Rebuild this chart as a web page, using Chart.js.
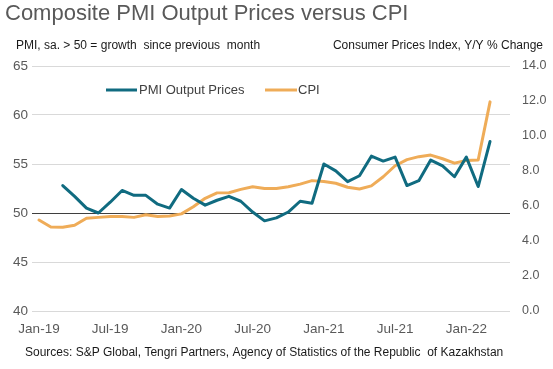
<!DOCTYPE html>
<html>
<head>
<meta charset="utf-8">
<script src="https://cdn.jsdelivr.net/npm/chart.js@4.4.1/dist/chart.umd.min.js"></script>
<style>
  html, body { margin: 0; padding: 0; background: #ffffff; }
  canvas { display: block; }
</style>
</head>
<body>
<canvas id="c" width="553" height="369"></canvas>
<script>
// ---- Data ----
const months = [
  'Jan-19','Feb-19','Mar-19','Apr-19','May-19','Jun-19','Jul-19','Aug-19','Sep-19','Oct-19','Nov-19','Dec-19',
  'Jan-20','Feb-20','Mar-20','Apr-20','May-20','Jun-20','Jul-20','Aug-20','Sep-20','Oct-20','Nov-20','Dec-20',
  'Jan-21','Feb-21','Mar-21','Apr-21','May-21','Jun-21','Jul-21','Aug-21','Sep-21','Oct-21','Nov-21','Dec-21',
  'Jan-22','Feb-22','Mar-22'
];
const pmiOutputPrices = [
  null, null, 52.8, 51.7, 50.5, 50.0, 51.1, 52.3, 51.8, 51.8, 50.9, 50.5,
  52.4, 51.5, 50.8, 51.3, 51.7, 51.2, 50.1, 49.2, 49.5, 50.1, 51.2, 51.0,
  55.0, 54.3, 53.2, 53.8, 55.8, 55.3, 55.7, 52.8, 53.3, 55.4, 54.8, 53.7,
  55.7, 52.7, 57.3
];
const cpi = [
  5.2, 4.8, 4.78, 4.9, 5.3, 5.35, 5.4, 5.4, 5.35, 5.5, 5.4, 5.43,
  5.55, 5.96, 6.44, 6.75, 6.76, 6.95, 7.1, 7.0, 7.0, 7.1, 7.25, 7.45,
  7.4, 7.3, 7.07, 6.97, 7.15, 7.67, 8.3, 8.65, 8.82, 8.91, 8.7, 8.45,
  8.6, 8.63, 11.95
];
const xTickLabels = ['Jan-19','Jul-19','Jan-20','Jul-20','Jan-21','Jul-21','Jan-22'];
const seriesNames = ['PMI Output Prices', 'CPI'];

const titleText = 'Composite PMI Output Prices versus CPI';
const leftAxisTitle = 'PMI, sa. > 50 = growth  since previous  month';
const rightAxisTitle = 'Consumer Prices Index, Y/Y % Change';
const sourceText = 'Sources: S&P Global, Tengri Partners, Agency of Statistics of the Republic  of Kazakhstan';

// ---- Styles ----
const TEAL = '#106b80';
const ORANGE = '#efac58';
const TICK_COLOR = '#595959';
const FONT = '"Liberation Sans", Arial, sans-serif';

const textPlugin = {
  id: 'texts',
  beforeDraw(chart) {
    const c = chart.ctx;
    c.save();
    c.fillStyle = '#ffffff';
    c.fillRect(0, 0, chart.width, chart.height);
    c.restore();
  },
  afterDraw(chart) {
    const c = chart.ctx;
    c.save();
    c.textBaseline = 'middle';
    // title
    c.fillStyle = '#595959';
    c.font = '22px ' + FONT;
    c.textAlign = 'left';
    c.fillText(titleText, 5, 14);
    // axis titles
    c.fillStyle = '#1a1a1a';
    c.font = '12px ' + FONT;
    c.fillText(leftAxisTitle, 16, 46);
    c.textAlign = 'right';
    c.fillText(rightAxisTitle, 543, 46);
    // source
    c.textAlign = 'left';
    c.fillText(sourceText, 25, 353);
    // legend
    const items = [
      { ds: 0, x0: 106, x1: 137, tx: 139 },
      { ds: 1, x0: 265, x1: 297, tx: 298 }
    ];
    const ly = 90;
    c.font = '13px ' + FONT;
    items.forEach(it => {
      const ds = chart.data.datasets[it.ds];
      c.strokeStyle = ds.borderColor;
      c.lineWidth = 3;
      c.lineCap = 'butt';
      c.beginPath();
      c.moveTo(it.x0, ly);
      c.lineTo(it.x1, ly);
      c.stroke();
      c.fillStyle = '#404040';
      c.fillText(ds.label, it.tx, ly + 0.5);
    });
    c.restore();
  }
};

new Chart(document.getElementById('c'), {
  type: 'line',
  data: {
    datasets: [
      {
        label: seriesNames[0],
        data: months.map((m, i) => ({ x: i, y: pmiOutputPrices[i] })),
        yAxisID: 'y',
        borderColor: TEAL,
        backgroundColor: TEAL,
        borderWidth: 3,
        pointRadius: 0,
        tension: 0,
        borderJoinStyle: 'round',
        borderCapStyle: 'round',
        spanGaps: false
      },
      {
        label: seriesNames[1],
        data: months.map((m, i) => ({ x: i, y: cpi[i] })),
        yAxisID: 'y1',
        borderColor: ORANGE,
        backgroundColor: ORANGE,
        borderWidth: 3,
        pointRadius: 0,
        tension: 0,
        borderJoinStyle: 'round',
        borderCapStyle: 'round'
      }
    ]
  },
  options: {
    responsive: false,
    animation: false,
    events: [],
    layout: { padding: { top: 66, left: 0, right: 0, bottom: 0 } },
    plugins: {
      legend: { display: false },
      tooltip: { enabled: false },
      title: { display: false }
    },
    scales: {
      x: {
        type: 'linear',
        min: -0.59,
        max: 39.68,
        afterBuildTicks: s => { s.ticks = xTickLabels.map(l => ({ value: months.indexOf(l) })); },
        afterFit: s => { s.height = 58; },
        ticks: {
          callback: v => months[v],
          color: TICK_COLOR,
          font: { family: FONT, size: 13.5 },
          padding: 10,
          maxRotation: 0,
          autoSkip: false
        },
        grid: { display: false, drawTicks: false },
        border: { display: false }
      },
      y: {
        position: 'left',
        min: 40,
        max: 65,
        afterFit: s => { s.width = 32; },
        ticks: {
          stepSize: 5,
          color: TICK_COLOR,
          font: { family: FONT, size: 13.5 },
          padding: 4
        },
        grid: {
          color: ctx => (ctx.tick && ctx.tick.value === 50) ? '#3f3f3f' : '#d9d9d9',
          lineWidth: 1,
          drawTicks: false
        },
        border: { display: false }
      },
      y1: {
        position: 'right',
        min: 0,
        max: 14,
        afterFit: s => { s.width = 43; },
        ticks: {
          stepSize: 2,
          callback: v => Number(v).toFixed(1),
          color: TICK_COLOR,
          font: { family: FONT, size: 12.5 },
          padding: 12
        },
        grid: { drawOnChartArea: false, drawTicks: false },
        border: { display: false }
      }
    }
  },
  plugins: [textPlugin]
});
</script>
</body>
</html>
